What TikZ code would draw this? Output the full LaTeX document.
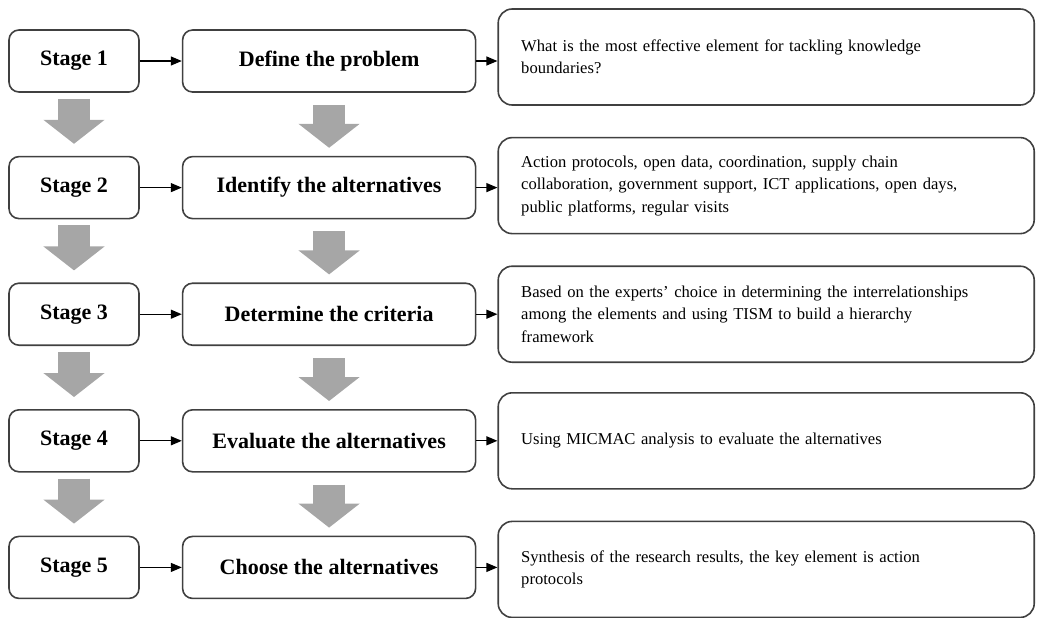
\documentclass[tikz,border=0pt]{standalone}
\usepackage{fontspec}
\setmainfont{Liberation Serif}
\usetikzlibrary{positioning,arrows.meta}

\begin{document}
\begin{tikzpicture}[
    x=0.5pt, y=-0.5pt,
    node distance=31.5pt and 21pt,
    stagebox/.style={draw=black!75, line width=0.8pt, rounded corners=5pt, minimum width=65pt, minimum height=31pt, font=\fontsize{11}{13}\selectfont\bfseries},
    taskbox/.style={draw=black!75, line width=0.8pt, rounded corners=5pt, minimum width=146.5pt, minimum height=31pt, font=\fontsize{11}{13}\selectfont\bfseries},
    notebox/.style={draw=black!75, line width=0.8pt, rounded corners=7pt, minimum height=48pt, text width=245pt, inner xsep=11.5pt, align=left, font=\fontsize{8.3}{11.25}\selectfont},
    flow/.style={draw, line width=0.6pt, -{Triangle[length=5.5pt, width=4.5pt]}},
    bigflow/.style={draw=black!35, line width=16pt, -{Triangle[length=12pt, width=30pt]}}
]

\useasboundingbox (0,0) rectangle (1037,617);

\node[stagebox] (stage1) at (74,61) {Stage 1};
\node[taskbox, right=of stage1] (define) {Define the problem};
\node[notebox, right=10.5pt of define, yshift=2pt] (question) {What is the most effective element for tackling knowledge\\boundaries?};

\node[stagebox, below=of stage1] (stage2) {Stage 2};
\node[taskbox, right=of stage2] (identify) {Identify the alternatives};
\node[notebox, right=10.5pt of identify, yshift=1pt] (elements) {Action protocols, open data, coordination, supply chain\\collaboration, government support, ICT applications, open days,\\public platforms, regular visits};

\node[stagebox, below=of stage2] (stage3) {Stage 3};
\node[taskbox, right=of stage3] (criteria) {Determine the criteria};
\node[notebox, right=10.5pt of criteria] (tism) {Based on the experts’ choice in determining the interrelationships\\among the elements and using TISM to build a hierarchy\\framework};

\node[stagebox, below=of stage3] (stage4) {Stage 4};
\node[taskbox, right=of stage4] (evaluate) {Evaluate the alternatives};
\node[notebox, right=10.5pt of evaluate] (micmac) {Using MICMAC analysis to evaluate the alternatives};

\node[stagebox, below=of stage4] (stage5) {Stage 5};
\node[taskbox, right=of stage5] (choose) {Choose the alternatives};
\node[notebox, right=10.5pt of choose, yshift=-1pt] (result) {Synthesis of the research results, the key element is action\\protocols};

\draw[flow] (stage1) -- (define);
\draw[flow] (define.east) -- (define.east -| question.west);
\draw[flow] (stage2) -- (identify);
\draw[flow] (identify.east) -- (identify.east -| elements.west);
\draw[flow] (stage3) -- (criteria);
\draw[flow] (criteria.east) -- (criteria.east -| tism.west);
\draw[flow] (stage4) -- (evaluate);
\draw[flow] (evaluate.east) -- (evaluate.east -| micmac.west);
\draw[flow] (stage5) -- (choose);
\draw[flow] (choose.east) -- (choose.east -| result.west);

\draw[bigflow] ([yshift=-3pt]stage1.south) -- ([yshift=6pt]stage2.north);
\draw[bigflow] ([yshift=-6pt]define.south) -- ([yshift=4pt]identify.north);
\draw[bigflow] ([yshift=-3pt]stage2.south) -- ([yshift=6pt]stage3.north);
\draw[bigflow] ([yshift=-6pt]identify.south) -- ([yshift=4pt]criteria.north);
\draw[bigflow] ([yshift=-3pt]stage3.south) -- ([yshift=6pt]stage4.north);
\draw[bigflow] ([yshift=-6pt]criteria.south) -- ([yshift=4pt]evaluate.north);
\draw[bigflow] ([yshift=-3pt]stage4.south) -- ([yshift=6pt]stage5.north);
\draw[bigflow] ([yshift=-6pt]evaluate.south) -- ([yshift=4pt]choose.north);

\end{tikzpicture}
\end{document}
